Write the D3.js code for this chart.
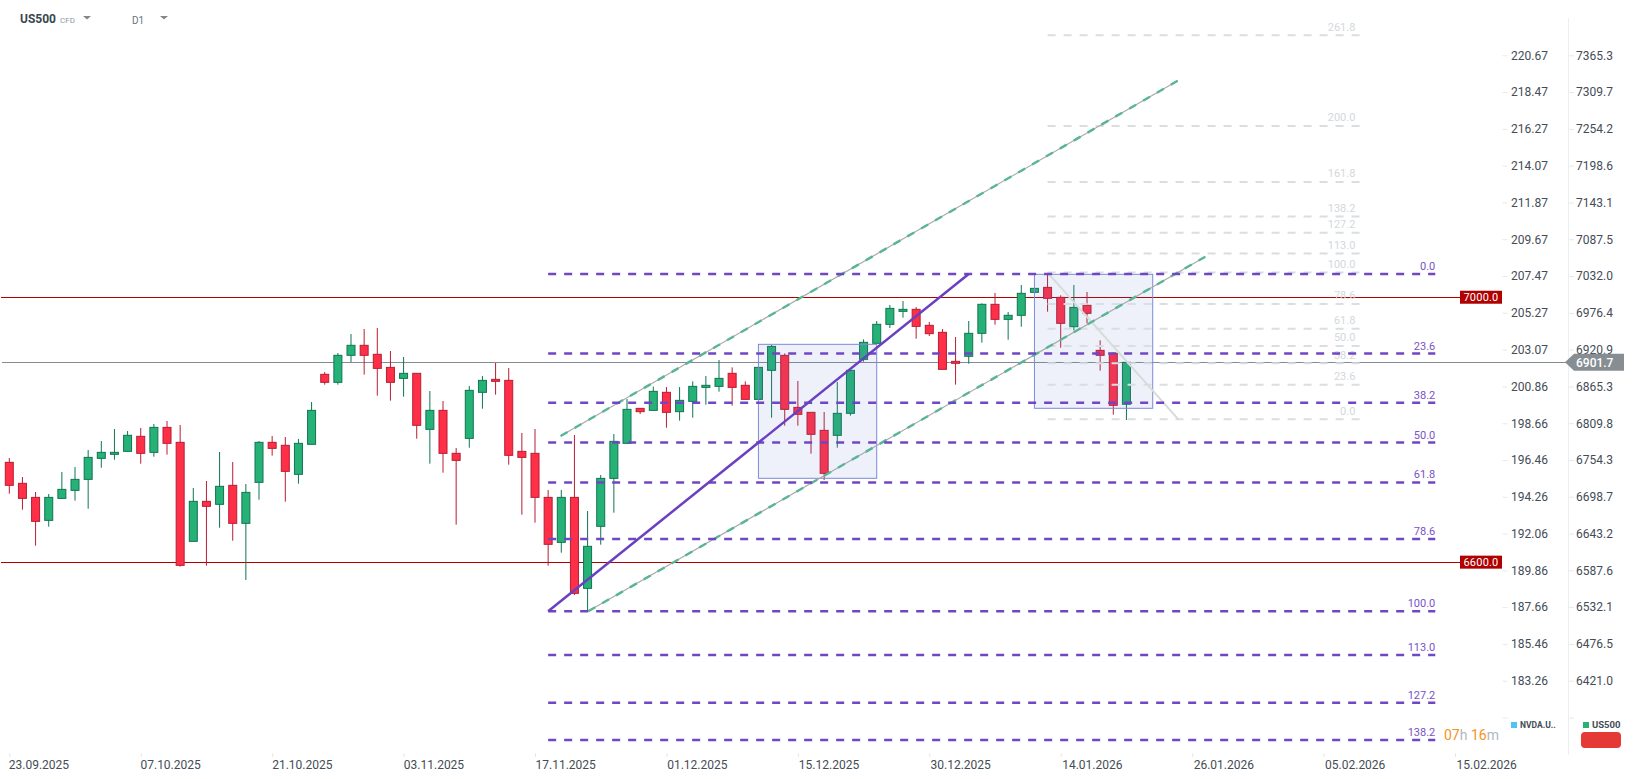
<!DOCTYPE html>
<html>
<head>
<meta charset="utf-8">
<script src="https://cdn.jsdelivr.net/npm/d3@7"></script>
<style>
  html, body { margin: 0; padding: 0; background: #fff; overflow: hidden; }
  svg { display: block; font-family: Roboto, sans-serif; }
</style>
</head>
<body>
<script>
// candles, one row per trading day: open, high, low, close
var opens = [
  6750.7, 6719.0, 6697.8, 6663.1, 6696.3, 6708.4, 6725.0, 6756.7, 6762.8, 6767.3,
  6790.0, 6765.8, 6803.5, 6780.9, 6631.4, 6691.8, 6687.3, 6716.0, 6658.6, 6720.5,
  6780.9, 6776.4, 6732.6, 6777.9, 6883.6, 6871.5, 6912.3, 6927.4, 6913.8, 6894.1,
  6877.5, 6885.1, 6800.5, 6829.2, 6764.3, 6786.9, 6856.4, 6876.0, 6874.5, 6767.3,
  6764.3, 6697.8, 6629.9, 6697.8, 6560.4, 6654.1, 6726.5, 6779.4, 6832.2, 6829.2,
  6856.4, 6827.2, 6842.8, 6863.9, 6865.4, 6885.1, 6867.0, 6845.8, 6889.6, 6912.3,
  6833.7, 6826.2, 6799.0, 6791.5, 6824.7, 6906.2, 6930.4, 6959.1, 6978.7, 6981.7,
  6957.6, 6947.0, 6903.2, 6910.8, 6945.5, 6989.3, 6966.6, 6972.7, 7007.4, 7014.9,
  6999.8, 6955.5, 6987.8, 6919.8, 6915.3, 6838.4
];
var highs = [
  6757.2, 6728.5, 6705.9, 6702.9, 6736.1, 6743.6, 6769.3, 6782.9, 6801.0, 6798.0,
  6802.5, 6808.6, 6813.1, 6807.1, 6711.9, 6722.5, 6766.3, 6751.2, 6718.0, 6782.9,
  6790.5, 6789.0, 6786.0, 6841.8, 6887.1, 6915.8, 6944.5, 6952.0, 6953.5, 6918.8,
  6909.7, 6885.1, 6858.4, 6843.3, 6772.3, 6866.0, 6881.0, 6900.7, 6893.1, 6795.0,
  6801.0, 6708.9, 6708.9, 6792.0, 6677.2, 6731.6, 6793.5, 6846.3, 6832.7, 6865.0,
  6864.4, 6864.4, 6873.0, 6881.0, 6905.2, 6894.1, 6873.0, 6894.1, 6927.9, 6915.3,
  6873.5, 6826.2, 6826.7, 6872.0, 6892.6, 6936.4, 6964.1, 6988.3, 6994.3, 6985.2,
  6962.6, 6952.0, 6939.9, 6964.1, 6990.8, 7006.4, 6977.7, 7018.5, 7013.4, 7036.1,
  7002.9, 7018.5, 7007.9, 6934.9, 6916.8, 6905.2
];
var lows = [
  6703.4, 6679.2, 6624.9, 6653.6, 6695.3, 6692.8, 6680.7, 6742.6, 6754.7, 6767.3,
  6748.7, 6759.2, 6762.3, 6593.2, 6631.4, 6594.7, 6652.0, 6632.4, 6573.0, 6694.3,
  6760.8, 6691.3, 6718.5, 6777.9, 6868.0, 6868.0, 6902.2, 6883.1, 6851.4, 6843.8,
  6849.8, 6786.4, 6748.7, 6735.1, 6656.6, 6772.8, 6831.7, 6852.9, 6747.2, 6671.7,
  6659.6, 6594.7, 6614.3, 6550.4, 6525.7, 6626.4, 6674.7, 6779.4, 6823.7, 6829.2,
  6803.0, 6813.6, 6818.1, 6837.8, 6857.4, 6836.3, 6845.8, 6845.8, 6818.1, 6806.1,
  6806.1, 6763.8, 6724.0, 6772.8, 6821.2, 6902.7, 6930.4, 6953.5, 6969.1, 6937.4,
  6941.4, 6891.1, 6868.0, 6899.7, 6931.4, 6958.6, 6935.9, 6955.5, 7007.4, 6978.2,
  6923.8, 6950.0, 6960.6, 6889.1, 6822.7, 6814.6
];
var closes = [
  6716.0, 6696.3, 6661.6, 6697.8, 6709.9, 6725.0, 6758.2, 6765.8, 6765.8, 6791.5,
  6764.3, 6803.5, 6779.4, 6595.2, 6691.8, 6684.3, 6714.5, 6658.6, 6705.4, 6780.9,
  6771.8, 6737.1, 6779.4, 6829.2, 6871.5, 6912.3, 6927.4, 6912.3, 6892.6, 6871.5,
  6885.1, 6806.6, 6829.2, 6764.3, 6753.7, 6859.4, 6874.5, 6873.0, 6761.3, 6758.2,
  6697.8, 6626.9, 6697.8, 6552.9, 6623.9, 6726.5, 6782.4, 6830.7, 6827.2, 6857.9,
  6826.2, 6844.3, 6865.4, 6867.0, 6877.5, 6863.9, 6845.8, 6894.1, 6925.8, 6830.7,
  6823.2, 6793.0, 6734.1, 6824.7, 6889.6, 6931.9, 6959.1, 6983.2, 6981.7, 6956.0,
  6945.0, 6891.1, 6900.2, 6945.5, 6989.3, 6966.6, 6972.7, 7005.9, 7013.4, 6998.3,
  6960.6, 6984.7, 6975.7, 6912.3, 6836.8, 6901.7
];

var dateLabels = [
  '23.09.2025', '07.10.2025', '21.10.2025', '03.11.2025', '17.11.2025', '01.12.2025',
  '15.12.2025', '30.12.2025', '14.01.2026', '26.01.2026', '05.02.2026', '15.02.2026'
];

var priceTicks = [
  7365.3, 7309.7, 7254.2, 7198.6, 7143.1, 7087.5, 7032.0, 6976.4, 6920.9,
  6865.3, 6809.8, 6754.3, 6698.7, 6643.2, 6587.6, 6532.1, 6476.5, 6421.0
];
var nvdaTicks = [
  220.67, 218.47, 216.27, 214.07, 211.87, 209.67, 207.47, 205.27, 203.07,
  200.86, 198.66, 196.46, 194.26, 192.06, 189.86, 187.66, 185.46, 183.26
];

var horizontalLevels = [7000, 6600];
var lastPrice = 6901.7;

// purple fibo, drawn from the swing low to the swing high
var fibLevels = [0, 23.6, 38.2, 50, 61.8, 78.6, 100, 113, 127.2, 138.2];
var fibHigh = 7035, fibLow = 6526, fibFrom = 41, fibTo = 108.5;

// pale fibo on the last leg
var fibLevels2 = [0, 23.6, 38.2, 50, 61.8, 78.6, 100, 113, 127.2, 138.2, 161.8, 200, 261.8];
var fib2Zero = 6815.7, fib2Hundred = 7037.2, fib2From = 79, fib2To = 102.8;

// [candle index, price] pairs
var trendLine = [[41, 6526], [73, 7035]];
var channelUpper = [[41.95, 6790.5], [88.9, 7326.9]];
var channelLower = [[44.05, 6525.8], [91, 7061.2]];
var paleDiagonal = [[79, 7037.2], [88.95, 6815.7]];

// [from index, to index, top price, bottom price]
var boxes = [[57, 66, 6928.9, 6726.6], [78, 87, 7034.6, 6832.3]];

var W = 1635, H = 779;

var x = d3.scaleLinear().domain([0, 110]).range([9.3, 1455]);
var y = d3.scaleLinear().domain([6421, 7365.3]).range([680.7, 55.3]);
var y2 = d3.scaleLinear().domain([183.26, 220.67]).range([680.7, 55.3]);

var svg = d3.select('body').append('svg')
  .attr('width', W)
  .attr('height', H);

var line = d3.line().x(d => x(d[0])).y(d => y(d[1]));

// keeps 1px price lines on a whole pixel
var snap = (v) => Math.floor(v) + 0.5;

// price lines sit behind everything
horizontalLevels.forEach((level) => {
  svg.append('line')
    .attr('x1', 1).attr('x2', 1460)
    .attr('y1', snap(y(level))).attr('y2', snap(y(level)))
    .attr('stroke', '#b00000')
    .attr('stroke-width', 1);
});

svg.append('line')
  .attr('x1', 2).attr('x2', 1566)
  .attr('y1', snap(y(lastPrice))).attr('y2', snap(y(lastPrice)))
  .attr('stroke', '#848c92')
  .attr('stroke-width', 1);

// candles
var candles = svg.append('g').selectAll('g')
  .data(opens.map((o, i) => ({ i: i, o: o, h: highs[i], l: lows[i], c: closes[i] })))
  .join('g');

var bodyWidth = 8;

candles.append('line')
  .attr('x1', d => x(d.i)).attr('x2', d => x(d.i))
  .attr('y1', d => y(d.h)).attr('y2', d => y(d.l))
  .attr('stroke', d => d.c >= d.o ? '#0f7552' : '#b81d32')
  .attr('stroke-width', 1);

candles.append('rect')
  .attr('x', d => x(d.i) - bodyWidth / 2)
  .attr('width', bodyWidth)
  .attr('y', d => y(Math.max(d.o, d.c)))
  .attr('height', d => Math.abs(y(d.o) - y(d.c)))
  .attr('fill', d => d.c >= d.o ? '#26b276' : '#ff2f48')
  .attr('stroke', d => d.c >= d.o ? '#0f7552' : '#b81d32')
  .attr('stroke-width', 1);

// rectangles
boxes.forEach((b) => {
  svg.append('rect')
    .attr('x', x(b[0]))
    .attr('width', x(b[1]) - x(b[0]))
    .attr('y', y(b[2]))
    .attr('height', y(b[3]) - y(b[2]))
    .attr('fill', 'rgba(95,115,205,0.1)')
    .attr('stroke', '#7d8ad6')
    .attr('stroke-width', 1);
});

// pale fibo
var fib2Price = (level) => fib2Zero + (fib2Hundred - fib2Zero) * level / 100;

fibLevels2.forEach((level) => {
  svg.append('line')
    .attr('x1', x(fib2From)).attr('x2', x(fib2To))
    .attr('y1', y(fib2Price(level))).attr('y2', y(fib2Price(level)))
    .attr('stroke', '#d8dee1')
    .attr('stroke-width', 2)
    .attr('stroke-dasharray', '8 8');

  svg.append('text')
    .attr('x', x(fib2To) - 5)
    .attr('y', y(fib2Price(level)) - 4.5)
    .attr('text-anchor', 'end')
    .attr('font-size', 11)
    .attr('fill', '#d3d8dc')
    .text(level.toFixed(1));
});

svg.append('path')
  .attr('d', line(paleDiagonal))
  .attr('fill', 'none')
  .attr('stroke', '#d6dcd9')
  .attr('stroke-width', 2);

// channel, a thin gray line with teal dashes on it
[channelUpper, channelLower].forEach((points) => {
  svg.append('path')
    .attr('d', line(points))
    .attr('fill', 'none')
    .attr('stroke', '#a9a9a9')
    .attr('stroke-width', 1.2);

  svg.append('path')
    .attr('d', line(points))
    .attr('fill', 'none')
    .attr('stroke', '#58b596')
    .attr('stroke-width', 2.4)
    .attr('stroke-dasharray', '8 8');
});

// purple fibo
var fibPrice = (level) => fibHigh - (fibHigh - fibLow) * level / 100;

fibLevels.forEach((level) => {
  svg.append('line')
    .attr('x1', x(fibFrom)).attr('x2', x(fibTo))
    .attr('y1', y(fibPrice(level))).attr('y2', y(fibPrice(level)))
    .attr('stroke', '#6f47c2')
    .attr('stroke-width', 2.5)
    .attr('stroke-dasharray', '8 8');

  svg.append('text')
    .attr('x', x(fibTo))
    .attr('y', y(fibPrice(level)) - 4)
    .attr('text-anchor', 'end')
    .attr('font-size', 11)
    .attr('fill', '#7a52c7')
    .text(level.toFixed(1));
});

svg.append('path')
  .attr('d', line(trendLine))
  .attr('fill', 'none')
  .attr('stroke', '#6a3fc0')
  .attr('stroke-width', 2.5);

// price tags
horizontalLevels.forEach((level) => {
  svg.append('rect')
    .attr('x', 1460).attr('width', 42)
    .attr('y', y(level) - 6.5).attr('height', 13)
    .attr('fill', '#b00000');

  svg.append('text')
    .attr('x', 1481)
    .attr('y', y(level) + 4)
    .attr('text-anchor', 'middle')
    .attr('font-size', 11)
    .attr('letter-spacing', 0.2)
    .attr('fill', '#fff')
    .text(level.toFixed(1));
});

// axes
var styleAxis = (g) => {
  g.select('.domain').remove();
  g.selectAll('.tick line').attr('stroke', '#e6e8ea');
  g.selectAll('.tick text')
    .attr('fill', '#444c55')
    .attr('font-family', 'Roboto, sans-serif')
    .attr('font-size', 12);
};

svg.append('line')
  .attr('x1', 1568.5).attr('x2', 1568.5)
  .attr('y1', 18).attr('y2', 755)
  .attr('stroke', '#eceef0');

// one tick below the last label has its mark but no text
var blankTick = 6365.4;

svg.append('g')
  .attr('transform', 'translate(1502.5,0)')
  .call(d3.axisRight(y2)
    .tickValues(nvdaTicks.concat(y2.invert(y(blankTick))))
    .tickSize(5)
    .tickPadding(3.5)
    .tickFormat(d => nvdaTicks.includes(d) ? d.toFixed(2) : ''))
  .call(styleAxis);

svg.append('g')
  .attr('transform', 'translate(1569,0)')
  .call(d3.axisRight(y)
    .tickValues(priceTicks.concat(blankTick))
    .tickSize(5)
    .tickPadding(2)
    .tickFormat(d => priceTicks.includes(d) ? d.toFixed(1) : ''))
  .call(styleAxis);

svg.append('g')
  .attr('transform', 'translate(0,753)')
  .call(d3.axisBottom(x)
    .tickValues(dateLabels.map((d, i) => i * 10))
    .tickSize(4)
    .tickPadding(4)
    .tickFormat((d, i) => dateLabels[i]))
  .call(styleAxis)
  .call(g => g.selectAll('.tick text')
    .attr('text-anchor', 'start')
    // the earlier labels sit a little further left than the later ones
    .attr('dx', (d, i) => Math.min(1, -1 + i / 4))
    .attr('y', 7));

// last price tag
svg.append('path')
  .attr('d', 'M1565,' + y(lastPrice) + 'L1574,' + (y(lastPrice) - 8.5) + 'H1624V' + (y(lastPrice) + 8.5) + 'H1574Z')
  .attr('fill', '#868e93');

svg.append('text')
  .attr('x', 1576)
  .attr('y', y(lastPrice) + 4.5)
  .attr('font-size', 12)
  .attr('font-weight', 500)
  .attr('fill', '#fff')
  .text(lastPrice.toFixed(1));

// countdown
var countdown = svg.append('text')
  .attr('x', 1444)
  .attr('y', 740)
  .attr('font-size', 14);
[['07', '#f7931e'], ['h ', '#b4b8bc'], ['16', '#f7931e'], ['m', '#b4b8bc']].forEach((part) => {
  countdown.append('tspan').attr('fill', part[1]).text(part[0]);
});

// legend
svg.append('rect').attr('x', 1511).attr('y', 722).attr('width', 6).attr('height', 6).attr('fill', '#4fc3f7');
svg.append('text').attr('x', 1520).attr('y', 728).attr('font-size', 8.5).attr('font-weight', 700).attr('fill', '#444c55').text('NVDA.U..');
svg.append('rect').attr('x', 1583).attr('y', 722).attr('width', 6).attr('height', 6).attr('fill', '#26b276');
svg.append('text').attr('x', 1592).attr('y', 728).attr('font-size', 9.5).attr('font-weight', 700).attr('fill', '#444c55').text('US500');
svg.append('rect').attr('x', 1581).attr('y', 732).attr('width', 40).attr('height', 16).attr('rx', 4).attr('fill', '#e53935');

// top left selector
svg.append('text').attr('x', 20).attr('y', 23).attr('font-size', 12).attr('font-weight', 700).attr('fill', '#37474f').text('US500');
svg.append('text').attr('x', 60).attr('y', 23).attr('font-size', 8).attr('fill', '#90989e').text('CFD');
svg.append('text').attr('x', 132).attr('y', 24).attr('font-size', 10).attr('fill', '#6b7479').text('D1');

[83, 160].forEach((cx) => {
  svg.append('path')
    .attr('d', 'M' + cx + ',16H' + (cx + 8) + 'L' + (cx + 4) + ',19.5Z')
    .attr('fill', '#80888d');
});
</script>
</body>
</html>
